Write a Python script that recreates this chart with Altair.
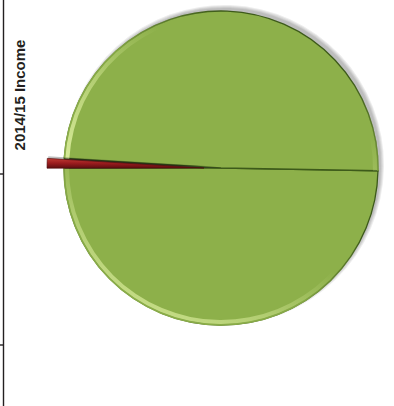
import math
import altair as alt
import pandas as pd

# Income split for 2014/15 (percent of total)
categories = ["Main income (part 1)", "Other income", "Main income (part 2)"]
values = [49.7, 1.0, 49.3]
stack_order = [0, 1, 2]

TITLE = "2014/15 Income"
HIGHLIGHT = "Other income"

df = pd.DataFrame({"category": categories, "value": values, "idx": stack_order})

R = 157
START = math.radians(91)
theta_scale = alt.Scale(range=[START, START + 2 * math.pi])

base = alt.Chart(df).encode(
    theta=alt.Theta("value:Q", stack=True, scale=theta_scale),
    order=alt.Order("idx:Q"),
)
is_hl = alt.datum.category == HIGHLIGHT

# soft drop shadow behind the pie
shadows = [
    base.mark_arc(radius=R + k, fill="#000000", xOffset=3, yOffset=-3, opacity=0.07)
    for k in (0, 1, 2, 3)
]

# main green slices (the highlighted slice is pulled out separately)
green = base.mark_arc(
    radius=R, fill="#8db04a", stroke="#3d5a1a", strokeWidth=1.3
).encode(opacity=alt.condition(is_hl, alt.value(0), alt.value(1)))

# dark slot left behind by the exploded slice
slot = base.mark_arc(radius=R, fill="#2f3a20").encode(
    opacity=alt.condition(is_hl, alt.value(0.85), alt.value(0))
)

# light rim on the lower-left edge, covering the dark outline there
rim_cover = base.mark_arc(
    radius=R + 0.8,
    radius2=R - 1,
    fill=alt.LinearGradient(
        gradient="linear",
        x1=0, y1=1, x2=1, y2=0,
        stops=[
            alt.GradientStop(color="rgba(141,176,74,1)", offset=0),
            alt.GradientStop(color="rgba(141,176,74,0.9)", offset=0.45),
            alt.GradientStop(color="rgba(141,176,74,0)", offset=0.75),
        ],
    ),
).encode(opacity=alt.condition(is_hl, alt.value(0), alt.value(1)))

rim = base.mark_arc(
    radius=R - 1,
    radius2=R - 5,
    fill=alt.LinearGradient(
        gradient="linear",
        x1=0, y1=1, x2=1, y2=0,
        stops=[
            alt.GradientStop(color="rgba(222,240,160,0.95)", offset=0),
            alt.GradientStop(color="rgba(222,240,160,0.45)", offset=0.35),
            alt.GradientStop(color="rgba(222,240,160,0)", offset=0.6),
        ],
    ),
).encode(opacity=alt.condition(is_hl, alt.value(0), alt.value(1)))

# exploded red slice
red_shadow = base.mark_arc(radius=R + 1, fill="#000000", xOffset=-15, yOffset=-2).encode(
    opacity=alt.condition(is_hl, alt.value(0.25), alt.value(0))
)
red = base.mark_arc(
    radius=R,
    xOffset=-17,
    fill=alt.LinearGradient(
        gradient="linear",
        x1=0, y1=0, x2=0, y2=1,
        stops=[
            alt.GradientStop(color="#c23a33", offset=0),
            alt.GradientStop(color="#9a1c1e", offset=0.5),
            alt.GradientStop(color="#5e0d10", offset=1),
        ],
    ),
    stroke="#4a0a0c",
    strokeWidth=0.6,
).encode(opacity=alt.condition(is_hl, alt.value(1), alt.value(0)))

# vertical title on the left
title = alt.Chart(pd.DataFrame({"t": [TITLE]})).mark_text(
    angle=270,
    align="center",
    baseline="middle",
    font="Liberation Sans",
    fontSize=15,
    fontWeight="bold",
    color="#231f20",
).encode(text="t:N", x=alt.value(-28), y=alt.value(95))

# page border with its row ticks
frame_df = pd.DataFrame({"k": [0]})
border = alt.Chart(frame_df).mark_rule(color="#231f20", strokeWidth=1.4).encode(
    x=alt.value(-44.5), y=alt.value(0), y2=alt.value(406)
)
tick1 = alt.Chart(frame_df).mark_rule(color="#231f20", strokeWidth=1.4).encode(
    x=alt.value(-48), x2=alt.value(-44), y=alt.value(174)
)
tick2 = alt.Chart(frame_df).mark_rule(color="#231f20", strokeWidth=1.4).encode(
    x=alt.value(-48), x2=alt.value(-44), y=alt.value(345)
)

chart = (
    alt.layer(*shadows, green, slot, rim_cover, rim, red_shadow, red, title, border, tick1, tick2)
    .properties(
        width=346,
        height=336,
        autosize=alt.AutoSizeParams(type="none"),
        padding={"left": 48, "top": 0, "right": 0, "bottom": 70},
        background="white",
    )
    .configure_view(strokeOpacity=0)
)

chart.save("out.html", embed_options={"renderer": "svg", "actions": False})
